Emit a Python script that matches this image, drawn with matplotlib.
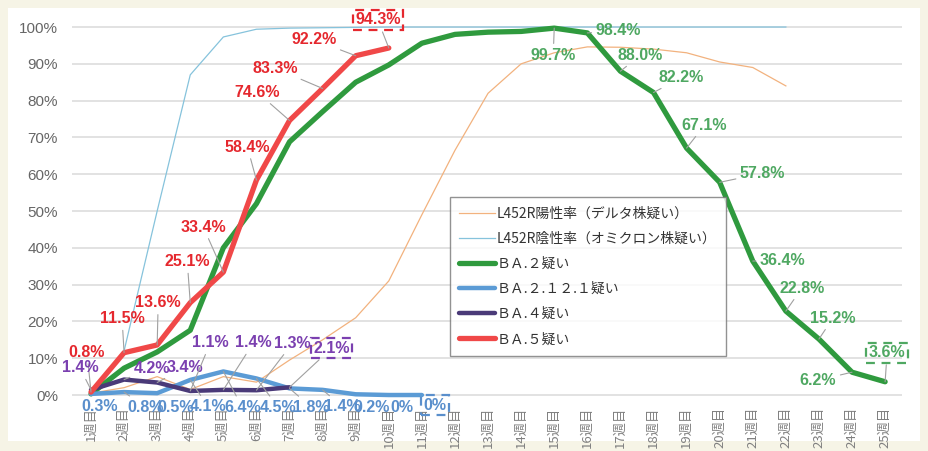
import matplotlib
matplotlib.use("Agg")
from matplotlib import pyplot
import matplotlib.patches as patches

# データ（%）
weeks = ["1週目", "2週目", "3週目", "4週目", "5週目", "6週目", "7週目", "8週目", "9週目",
         "10週目", "11週目", "12週目", "13週目", "14週目", "15週目", "16週目", "17週目",
         "18週目", "19週目", "20週目", "21週目", "22週目", "23週目", "24週目", "25週目"]
delta = [0.5, 2, 5, 1.5, 5, 3.5, 9.5, 15, 21, 31, 49, 66.5, 82, 90, 93, 94.6, 94.5, 94,
         93, 90.5, 89, 84]
omicron = [0, 12, 50, 87, 97.3, 99.4, 99.7, 99.8, 99.9, 100, 100, 100, 100, 100, 100,
           100, 100, 100, 100, 100, 100, 100]
ba2 = [0.3, 7.3, 11.7, 17.6, 40, 52, 68.8, 77, 85, 89.7, 95.6, 98, 98.6, 98.8, 99.7,
       98.4, 88.0, 82.2, 67.1, 57.8, 36.4, 22.8, 15.2, 6.2, 3.6]
ba2121 = [0.3, 0.8, 0.5, 4.1, 6.4, 4.5, 1.8, 1.4, 0.2, 0, 0]
ba4 = [1.4, 4.2, 3.4, 1.1, 1.4, 1.3, 2.1]
ba5 = [0.8, 11.5, 13.6, 25.1, 33.4, 58.4, 74.6, 83.3, 92.2, 94.3]

ba2_labels = ["99.7%", "98.4%", "88.0%", "82.2%", "67.1%", "57.8%", "36.4%", "22.8%",
              "15.2%", "6.2%", "3.6%"]
ba2_label_weeks = [15, 16, 17, 18, 19, 20, 21, 22, 23, 24, 25]
ba5_labels = ["0.8%", "11.5%", "13.6%", "25.1%", "33.4%", "58.4%", "74.6%", "83.3%",
              "92.2%", "94.3%"]
ba4_labels = ["1.4%", "4.2%", "3.4%", "1.1%", "1.4%", "1.3%", "2.1%"]
ba2121_labels = ["0.3%", "0.8%", "0.5%", "4.1%", "6.4%", "4.5%", "1.8%", "1.4%", "0.2%",
                 "0%", "0%"]

# ラベル位置（ピクセルオフセット）
ba5_off = [(-4, 40), (-2, 34), (1, 42), (-3, 41), (-20, 45), (-9, 33), (-32, 28),
           (-47, 20), (-42, 16), (-11, 28)]
ba2_off = [(-1, -27), (31, 2), (20, 16), (28, 15), (18, 23), (43, 9), (30, 1),
           (16, 23), (14, 21), (-34, -8), (2, 29)]
ba4_off = [(-11, 22), (28, 11), (28, 15), (20, 48), (30, 47), (36, 47), (42, 39)]
ba2121_off = [(9, -13), (21, -15), (18, -14), (18, -27), (19, -36), (22, -29),
              (22, -19), (20, -17), (16, -13), (13, -12), (13, -10)]

num_font = ["Liberation Sans Narrow", "Liberation Sans", "DejaVu Sans"]
cjk_font = ["Noto Sans CJK JP", "DejaVu Sans"]

fig = pyplot.figure(figsize=(9.29, 4.51), dpi=100, facecolor="#f6f4e6")
# 白い背景パネル
bg = patches.Rectangle((8 / 929, 10 / 451), 912 / 929, 433 / 451,
                       transform=fig.transFigure, facecolor="white",
                       edgecolor="none", zorder=-10)
fig.patches.append(bg)
ax = fig.add_axes([72 / 929, 1 - 398.7 / 451, 830 / 929, 386.4 / 451])
ax.set_facecolor("none")

x = list(range(1, 26))
ax.plot(x[:len(delta)], delta, c="#f2b27e", lw=0.9,
        label="L452R陽性率（デルタ株疑い）")
ax.plot(x[:len(omicron)], omicron, c="#86c3dc", lw=0.9,
        label="L452R陰性率（オミクロン株疑い）")
ax.plot(x, ba2, c="#2f9a3e", lw=3.8, solid_capstyle="round", label="ＢＡ.２疑い")
ax.plot(x[:len(ba2121)], ba2121, c="#5b9bd5", lw=3.2, solid_capstyle="round",
        label="ＢＡ.２.１２.１疑い")
ax.plot(x[:len(ba4)], ba4, c="#4a3a78", lw=3.2, solid_capstyle="round", label="ＢＡ.４疑い")
ax.plot(x[:len(ba5)], ba5, c="#f04848", lw=3.8, solid_capstyle="round", label="ＢＡ.５疑い")


def put_labels(xs, ys, texts, offs, color, boxed=None):
    for i, (xx, yy, t, o) in enumerate(zip(xs, ys, texts, offs)):
        far = (o[0] ** 2 + o[1] ** 2) ** 0.5 > 24
        kw = {}
        if far:
            kw["arrowprops"] = dict(arrowstyle="-", color="#a0a0a0", lw=0.8,
                                    shrinkA=1, shrinkB=0)
        if boxed is not None and i == boxed:
            kw["bbox"] = dict(boxstyle="square,pad=0.15", fc="none", ec=color,
                              ls=(0, (4, 3)), lw=1.6)
        ax.annotate(t, (xx, yy), xytext=o, textcoords="offset pixels",
                    ha="center", va="center", color=color, fontsize=11.5,
                    fontweight="bold", family=num_font, zorder=6, **kw)


put_labels(x[:len(ba5)], ba5, ba5_labels, ba5_off, "#e5282e", boxed=9)
put_labels(ba2_label_weeks, [ba2[w - 1] for w in ba2_label_weeks], ba2_labels, ba2_off,
           "#4fa862", boxed=10)
put_labels(x[:len(ba4)], ba4, ba4_labels, ba4_off, "#7b40b0", boxed=6)
put_labels(x[:len(ba2121)], ba2121, ba2121_labels, ba2121_off, "#5a8fcc", boxed=10)

ax.set_xlim(0.426, 25.51)
ax.set_ylim(-1, 104)
ax.set_yticks([0, 10, 20, 30, 40, 50, 60, 70, 80, 90, 100])
ax.set_yticklabels([f"{v}%" for v in range(0, 101, 10)], family=num_font,
                   fontsize=11, color="#666666")
ax.set_xticks(x)
ax.set_xticklabels(weeks, rotation=90, family=cjk_font, fontsize=9.5, color="#808080")
ax.tick_params(axis="both", length=0)
ax.tick_params(axis="x", pad=6)
ax.tick_params(axis="y", pad=10)
ax.grid(axis="y", color="#e2e2e2", lw=1.4)
ax.set_axisbelow(True)
for s in ax.spines.values():
    s.set_visible(False)

leg = ax.legend(loc="upper left", bbox_to_anchor=(0.455, 0.522), borderaxespad=0,
                prop={"family": cjk_font, "size": 10}, frameon=True, fancybox=False,
                edgecolor="#777777", handlelength=2.6, labelspacing=0.8,
                handletextpad=0.1, borderpad=0.7)
leg.get_frame().set_linewidth(1.0)
for t in leg.get_texts():
    t.set_color("#333333")

fig.savefig("out.png")
